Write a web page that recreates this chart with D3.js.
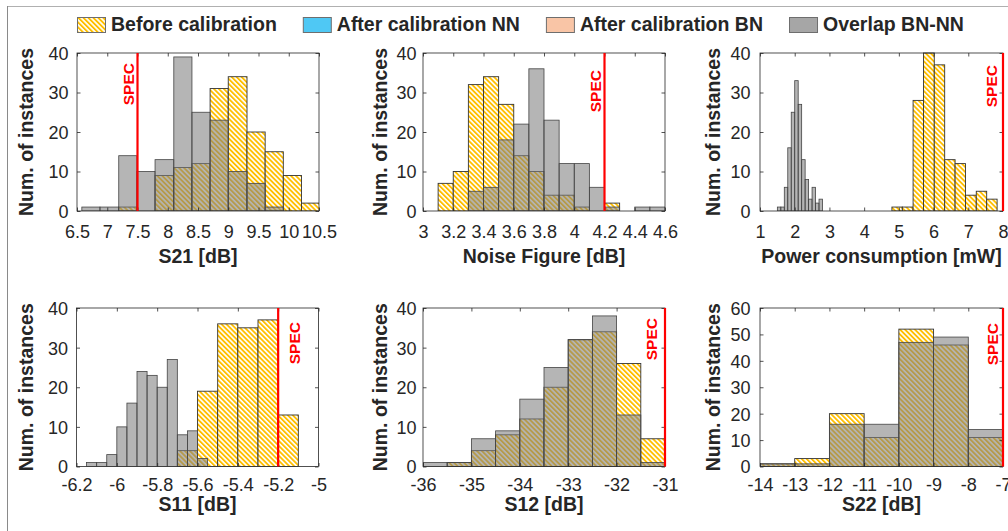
<!DOCTYPE html>
<html><head><meta charset="utf-8">
<script src="https://cdn.jsdelivr.net/npm/d3@7"></script>
<style>body{margin:0;background:#fff}svg{display:block}</style>
</head><body>
<svg id="chart" width="1008" height="531"></svg>
<script>
// ---------------- DATA ----------------
const legendLabels = ["Before calibration", "After calibration NN", "After calibration BN", "Overlap BN-NN"];
const yAxisLabel = "Num. of instances";
const xAxisLabels = ["S21 [dB]", "Noise Figure [dB]", "Power consumption [mW]", "S11 [dB]", "S12 [dB]", "S22 [dB]"];
const specValues = [7.5, 4.2, 8, -5.2, -31, -7];
const specText = "SPEC";

// S21
const s21Edges = [6.58, 6.88, 7.19, 7.49, 7.79, 8.10, 8.40, 8.70, 9.00, 9.31, 9.61, 9.91, 10.21, 10.52];
const s21Before = [0, 0, 1, 0, 9, 11, 12, 31, 34, 20, 15, 9, 2];
const s21Overlap = [1, 1, 14, 10, 13, 39, 25, 23, 10, 7, 1, 0, 0];
const s21Ticks = [6.5, 7, 7.5, 8, 8.5, 9, 9.5, 10, 10.5];

// Noise figure
const nfEdges = [3.1, 3.2, 3.3, 3.4, 3.5, 3.6, 3.7, 3.8, 3.9, 4.0, 4.1, 4.2, 4.3, 4.4, 4.5, 4.6];
const nfBefore = [7, 10, 32, 34, 27, 14, 10, 4, 4, 1, 0, 2, 0, 0, 0];
const nfOverlap = [0, 0, 5, 6, 18, 22, 36, 23, 12, 12, 6, 1, 0, 1, 1];
const nfTicks = [3, 3.2, 3.4, 3.6, 3.8, 4, 4.2, 4.4, 4.6];

// Power consumption
const pwrBeforeEdges = [4.80, 5.10, 5.41, 5.71, 6.02, 6.32, 6.62, 6.92, 7.23, 7.53, 7.83];
const pwrBefore = [1, 1, 28, 40, 37, 13, 12, 4, 5, 3];
const pwrOverlapEdges = [1.5, 1.6, 1.7, 1.8, 1.9, 2.0, 2.1, 2.2, 2.3, 2.4, 2.5, 2.6, 2.7, 2.8];
const pwrOverlap = [1, 1, 6, 16, 25, 33, 27, 13, 8, 3, 6, 2, 3];
const pwrTicks = [1, 2, 3, 4, 5, 6, 7, 8];

// S11
const s11BeforeEdges = [-5.7, -5.6, -5.5, -5.4, -5.3, -5.2, -5.1];
const s11Before = [4, 19, 36, 35, 37, 13];
const s11OverlapEdges = [-6.15, -6.1, -6.05, -6.0, -5.95, -5.9, -5.85, -5.8, -5.75, -5.7, -5.65, -5.6, -5.55];
const s11Overlap = [1, 1, 3, 10, 16, 24, 23, 20, 27, 8, 9, 2];
const s11Ticks = [-6.2, -6, -5.8, -5.6, -5.4, -5.2, -5];

// S12
const s12Edges = [-36, -35.5, -35, -34.5, -34, -33.5, -33, -32.5, -32, -31.5, -31];
const s12Before = [0, 1, 4, 8, 12, 20, 32, 34, 26, 7];
const s12Overlap = [1, 1, 7, 9, 17, 25, 32, 38, 13, 1];
const s12Ticks = [-36, -35, -34, -33, -32, -31];

// S22
const s22Edges = [-14, -13, -12, -11, -10, -9, -8, -7];
const s22Before = [1, 3, 20, 11, 52, 46, 11];
const s22Overlap = [1, 1, 16, 16, 47, 49, 14];
const s22Ticks = [-14, -13, -12, -11, -10, -9, -8, -7];

const countTicks40 = [0, 10, 20, 30, 40];
const countTicks60 = [0, 10, 20, 30, 40, 50, 60];

// ---------------- PANELS (built from the arrays) ----------------
const panels = [
  {eB: s21Edges, b: s21Before, eO: s21Edges, o: s21Overlap, xd: [6.5, 10.5], yd: [0, 40], xt: s21Ticks, yt: countTicks40},
  {eB: nfEdges, b: nfBefore, eO: nfEdges, o: nfOverlap, xd: [3, 4.6], yd: [0, 40], xt: nfTicks, yt: countTicks40},
  {eB: pwrBeforeEdges, b: pwrBefore, eO: pwrOverlapEdges, o: pwrOverlap, xd: [1, 8], yd: [0, 40], xt: pwrTicks, yt: countTicks40},
  {eB: s11BeforeEdges, b: s11Before, eO: s11OverlapEdges, o: s11Overlap, xd: [-6.2, -5], yd: [0, 40], xt: s11Ticks, yt: countTicks40},
  {eB: s12Edges, b: s12Before, eO: s12Edges, o: s12Overlap, xd: [-36, -31], yd: [0, 40], xt: s12Ticks, yt: countTicks40},
  {eB: s22Edges, b: s22Before, eO: s22Edges, o: s22Overlap, xd: [-14, -7], yd: [0, 60], xt: s22Ticks, yt: countTicks60}
];

// layout (pixels)
const layout = [
  {x0: 77, x1: 319, y0: 53, y1: 211, yl: 44, yt: 8.5, tb: 237.5, lb: 263, sdx: -4, stop: 63},
  {x0: 423, x1: 665, y0: 53, y1: 211, yl: 36, yt: 6.5, tb: 237.5, lb: 263, sdx: -3.5, stop: 70},
  {x0: 760, x1: 1003, y0: 53, y1: 211, yl: 40, yt: 9.5, tb: 237.5, lb: 263, sdx: -6, stop: 65},
  {x0: 76.5, x1: 318.5, y0: 308, y1: 466.5, yl: 44, yt: 8.5, tb: 490.5, lb: 511, sdx: 21.5, stop: 322},
  {x0: 423, x1: 665, y0: 308, y1: 466.5, yl: 36, yt: 6.5, tb: 490.5, lb: 511, sdx: -8.5, stop: 318},
  {x0: 760, x1: 1003, y0: 308, y1: 466.5, yl: 40, yt: 9.5, tb: 490.5, lb: 511, sdx: -5.5, stop: 323}
];

const FONT = '"Liberation Sans", Arial, Helvetica, sans-serif';
const TFONT = '"Liberation Sans", Arial, Helvetica, sans-serif';
const INK = "#262626";
const YELLOW = "#ffbf00";
const GRAY = "#808080";

const svg = d3.select("#chart");
const defs = svg.append("defs");
const pat = defs.append("pattern").attr("id", "hatch")
  .attr("patternUnits", "userSpaceOnUse").attr("width", 3.5).attr("height", 3.5)
  .attr("patternTransform", "rotate(-45)");
pat.append("rect").attr("width", 3.5).attr("height", 3.5).attr("fill", "#fff");
pat.append("rect").attr("width", 1.85).attr("height", 3.5).attr("fill", YELLOW);

// frame
svg.append("line").attr("x1", 7).attr("x2", 1008).attr("y1", 6.5).attr("y2", 6.5).attr("stroke", "#b0b0b0");
svg.append("line").attr("x1", 7.5).attr("x2", 7.5).attr("y1", 6).attr("y2", 531).attr("stroke", "#8a8a8a");

// legend
const legendFills = ["url(#hatch)", "#4fc8f4", "#f9c5a6", "#a6a6a6"];
let lx = 77;
legendLabels.forEach((lab, i) => {
  svg.append("rect").attr("x", lx + 0.5).attr("y", 17.5).attr("width", 28).attr("height", 15)
    .attr("fill", legendFills[i]).attr("stroke", "#6e6e6e").attr("stroke-width", 1);
  const t = svg.append("text").attr("x", lx + 34).attr("y", 30.5).text(lab)
    .attr("font-family", FONT).attr("font-weight", "bold").attr("font-size", 19.5).attr("fill", INK);
  lx += 34 + t.node().getComputedTextLength() + 26;
});

panels.forEach((p, i) => {
  const L = layout[i];
  const x = d3.scaleLinear().domain(p.xd).range([L.x0, L.x1]);
  const y = d3.scaleLinear().domain(p.yd).range([L.y1, L.y0]);
  const g = svg.append("g");
  defs.append("clipPath").attr("id", "clip" + i).append("rect")
    .attr("x", L.x0).attr("y", L.y0 - 2).attr("width", L.x1 - L.x0).attr("height", L.y1 - L.y0 + 2);
  const plot = g.append("g").attr("clip-path", `url(#clip${i})`);

  const mk = (edges, counts) => counts.map((c, k) => ({a: edges[k], b: edges[k + 1], c})).filter(d => d.c > 0);

  plot.selectAll("rect.before").data(mk(p.eB, p.b)).join("rect").attr("class", "before")
    .attr("x", d => x(d.a)).attr("width", d => x(d.b) - x(d.a))
    .attr("y", d => y(d.c)).attr("height", d => y(0) - y(d.c))
    .attr("fill", "url(#hatch)").attr("stroke", "#333").attr("stroke-width", 0.9);

  plot.selectAll("rect.overlap").data(mk(p.eO, p.o)).join("rect").attr("class", "overlap")
    .attr("x", d => x(d.a)).attr("width", d => x(d.b) - x(d.a))
    .attr("y", d => y(d.c)).attr("height", d => y(0) - y(d.c))
    .attr("fill", GRAY).attr("fill-opacity", 0.58).attr("stroke", "#444").attr("stroke-width", 0.8);

  // axes
  const styleAxis = (sel) => {
    sel.select(".domain").remove();
    sel.selectAll(".tick line").attr("stroke", INK).attr("stroke-width", 0.8);
    sel.selectAll(".tick text").attr("fill", INK).attr("font-family", TFONT).attr("font-size", 18);
  };
  const fmt = d => String(d);
  const xb = g.append("g").attr("transform", `translate(0,${L.y1})`)
    .call(d3.axisBottom(x).tickValues(p.xt).tickSize(-3.5).tickFormat(fmt));
  styleAxis(xb);
  xb.selectAll(".tick text").attr("y", L.tb - L.y1).attr("dy", null);
  g.append("g").attr("transform", `translate(0,${L.y0})`)
    .call(d3.axisTop(x).tickValues(p.xt).tickSize(-3.5).tickFormat("")).call(styleAxis);
  const yl = g.append("g").attr("transform", `translate(${L.x0},0)`)
    .call(d3.axisLeft(y).tickValues(p.yt).tickSize(-3.5).tickPadding(L.yt).tickFormat(fmt));
  styleAxis(yl);
  yl.selectAll(".tick text").attr("dy", "0.36em");
  g.append("g").attr("transform", `translate(${L.x1},0)`)
    .call(d3.axisRight(y).tickValues(p.yt).tickSize(-3.5).tickFormat("")).call(styleAxis);

  g.append("rect").attr("x", L.x0).attr("y", L.y0).attr("width", L.x1 - L.x0).attr("height", L.y1 - L.y0)
    .attr("fill", "none").attr("stroke", INK).attr("stroke-width", 0.8);

  // spec line + label
  const sx = x(specValues[i]);
  g.append("line").attr("x1", sx).attr("x2", sx).attr("y1", L.y0).attr("y2", L.y1)
    .attr("stroke", "#ff0000").attr("stroke-width", 2.2);
  g.append("text").attr("transform", `translate(${sx + L.sdx},${L.stop}) rotate(-90)`)
    .attr("text-anchor", "end").text(specText)
    .attr("font-family", FONT).attr("font-weight", "bold").attr("font-size", 15.5).attr("fill", "#ff0000");

  // axis titles
  g.append("text").attr("x", (L.x0 + L.x1) / 2).attr("y", L.lb).attr("text-anchor", "middle")
    .text(xAxisLabels[i]).attr("font-family", FONT).attr("font-weight", "bold").attr("font-size", 19.5).attr("fill", INK);
  g.append("text").attr("transform", `translate(${L.x0 - L.yl},${(L.y0 + L.y1) / 2}) rotate(-90)`)
    .attr("text-anchor", "middle").text(yAxisLabel)
    .attr("font-family", FONT).attr("font-weight", "bold").attr("font-size", 19.5).attr("fill", INK);
});
</script>
</body></html>
